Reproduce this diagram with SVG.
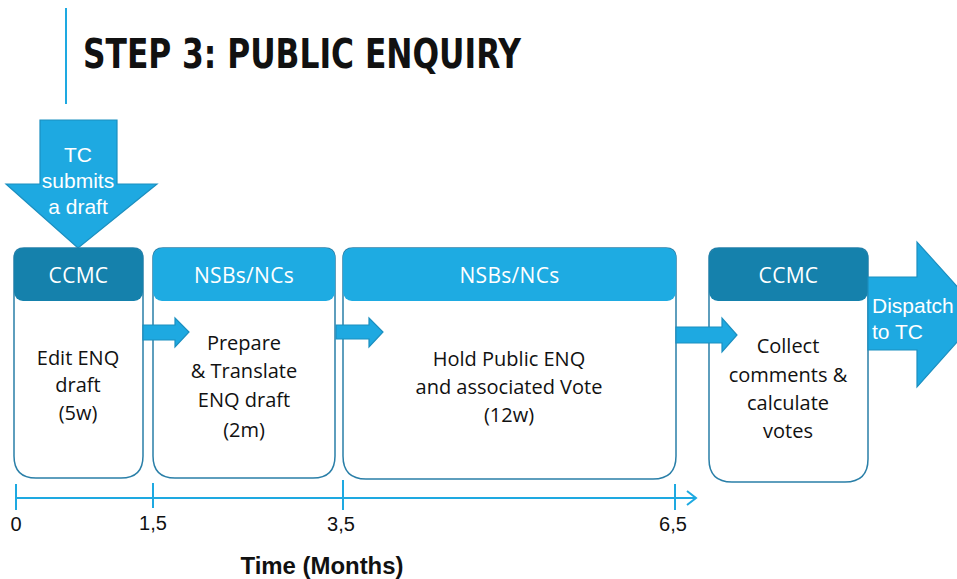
<svg xmlns="http://www.w3.org/2000/svg" width="957" height="579" viewBox="0 0 957 579">
<style>
.title{font-family:"DejaVu Sans Condensed","DejaVu Sans",sans-serif;font-weight:bold;font-size:40px;fill:#111}
.arr{fill:#1EA9E1;stroke:#1B8FC0;stroke-width:1.2}
.arrtxt{font-family:"Liberation Sans",Arial,sans-serif;font-size:21px;fill:#fff}
.body{fill:#fff;stroke:#2A7FA8;stroke-width:1.5}
.hdDark{fill:#1581AC}
.hdLight{fill:#1EABE2}
.hdtxt{font-family:"Open Sans",sans-serif;font-size:21px;letter-spacing:0.3px;fill:#fff;text-anchor:middle}
.txt{font-family:"Open Sans",sans-serif;font-size:20px;fill:#111;text-anchor:middle}
.axis{stroke:#1EA9E1;stroke-width:2;fill:none}
.lbl{font-family:"Liberation Sans",Arial,sans-serif;font-size:20px;fill:#111;text-anchor:middle}
.axtitle{font-family:"Liberation Sans",Arial,sans-serif;font-size:24px;font-weight:bold;fill:#111;text-anchor:middle}
</style>
<line x1="66" y1="8" x2="66" y2="104" stroke="#1EA9E1" stroke-width="2"/>
<text class="title" x="83" y="68" textLength="438" lengthAdjust="spacingAndGlyphs">STEP 3: PUBLIC ENQUIRY</text>

<g id="tc-arrow">
<path class="arr" d="M40,120 H117 V184 H157 L78,248 L6,184 H40 Z"/>
<text class="arrtxt" x="78" y="162" text-anchor="middle">TC</text>
<text class="arrtxt" x="78" y="188" text-anchor="middle">submits</text>
<text class="arrtxt" x="78" y="214" text-anchor="middle">a draft</text>
</g>

<g id="box1">
<path class="body" d="M24,248 H133 Q143,248 143,258 V456 Q143,478 121,478 H36 Q14,478 14,456 V258 Q14,248 24,248 Z"/>
<rect class="hdDark" x="14" y="248" width="129" height="53" rx="9"/>
<text class="hdtxt" x="78.5" y="283">CCMC</text>
<text class="txt" x="78" y="365">Edit ENQ</text>
<text class="txt" x="78" y="392">draft</text>
<text class="txt" x="78" y="420">(5w)</text>
</g>

<g id="box2">
<path class="body" d="M163,248 H325 Q335,248 335,258 V456 Q335,478 313,478 H175 Q153,478 153,456 V258 Q153,248 163,248 Z"/>
<rect class="hdLight" x="153" y="248" width="182" height="53" rx="9"/>
<text class="hdtxt" x="244" y="283">NSBs/NCs</text>
<text class="txt" x="244" y="350">Prepare</text>
<text class="txt" x="244" y="378">&amp; Translate</text>
<text class="txt" x="244" y="407">ENQ draft</text>
<text class="txt" x="244" y="437">(2m)</text>
</g>

<g id="box3">
<path class="body" d="M353,248 H666 Q676,248 676,258 V456 Q676,479 653,479 H366 Q343,479 343,456 V258 Q343,248 353,248 Z"/>
<rect class="hdLight" x="343" y="248" width="333" height="53" rx="9"/>
<text class="hdtxt" x="509.5" y="283">NSBs/NCs</text>
<text class="txt" x="509" y="366" font-size="20.5">Hold Public ENQ</text>
<text class="txt" x="509" y="394" font-size="20.5">and associated Vote</text>
<text class="txt" x="509" y="422" font-size="20.5">(12w)</text>
</g>

<g id="box4">
<path class="body" d="M719,248 H858 Q868,248 868,258 V459 Q868,482 845,482 H732 Q709,482 709,459 V258 Q709,248 719,248 Z"/>
<rect class="hdDark" x="709" y="248" width="159" height="53" rx="9"/>
<text class="hdtxt" x="788.5" y="283">CCMC</text>
<text class="txt" x="788" y="353">Collect</text>
<text class="txt" x="788" y="382">comments &amp;</text>
<text class="txt" x="788" y="410">calculate</text>
<text class="txt" x="788" y="438">votes</text>
</g>

<g id="dispatch-arrow">
<path class="arr" d="M868,277 H917 V242 L982,314 L917,387 V350 H868 Z"/>
<text class="arrtxt" x="872" y="313">Dispatch</text>
<text class="arrtxt" x="872" y="339">to TC</text>
</g>

<g id="connectors">
<path class="arr" d="M143,325 H175 V318 L189,332 L175,347 V340 H143 Z"/>
<path class="arr" d="M336,325 H369 V318 L383,332 L369,347 V339 H336 Z"/>
<path class="arr" d="M676,327 H722 V318 L737,335 L722,352 V343 H676 Z"/>
</g>

<g id="timeline">
<line class="axis" x1="16" y1="498" x2="695" y2="498"/>
<path class="axis" d="M687,491 L696,498 L687,505"/>
<line class="axis" x1="16" y1="484" x2="16" y2="510"/>
<line class="axis" x1="153" y1="483" x2="153" y2="508"/>
<line class="axis" x1="343" y1="480" x2="343" y2="510"/>
<line class="axis" x1="675" y1="484" x2="675" y2="510"/>
<text class="lbl" x="16" y="531">0</text>
<text class="lbl" x="153" y="530">1,5</text>
<text class="lbl" x="341" y="531">3,5</text>
<text class="lbl" x="673" y="531">6,5</text>
<text class="axtitle" x="322" y="574" textLength="163" lengthAdjust="spacingAndGlyphs">Time (Months)</text>
</g>
</svg>
